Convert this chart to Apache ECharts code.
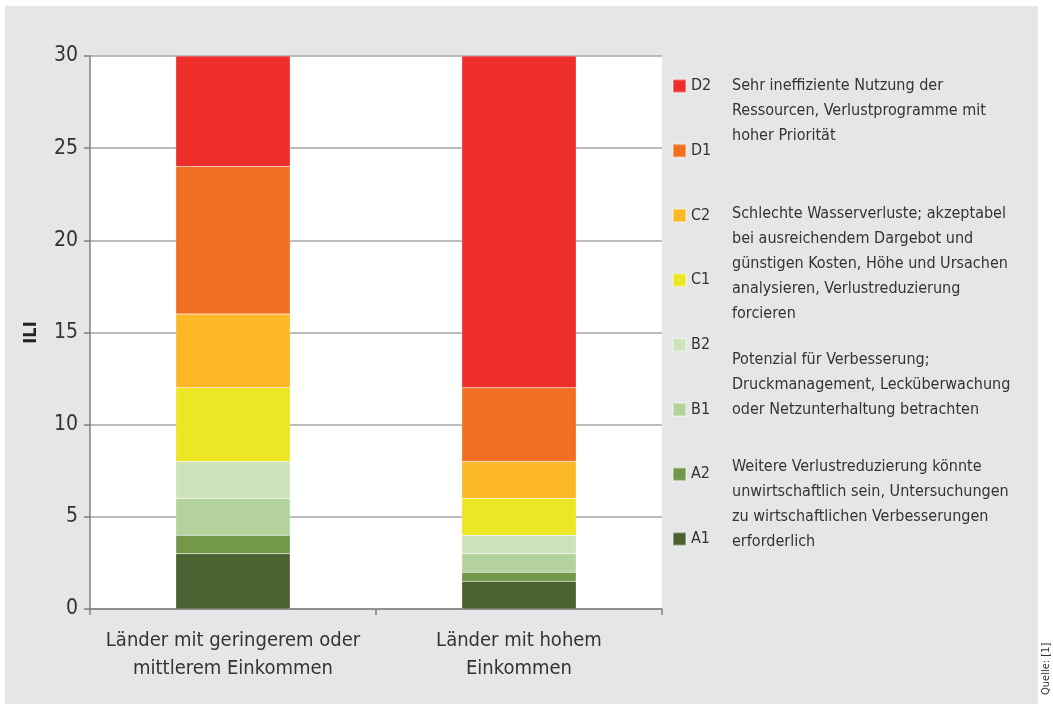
<!DOCTYPE html>
<html>
<head>
<meta charset="utf-8">
<script src="https://cdn.jsdelivr.net/npm/echarts@6/dist/echarts.min.js"></script>
<style>
  html, body { margin: 0; padding: 0; background: #fff; }
  #chart { width: 1053px; height: 704px; }
</style>
</head>
<body>
<div id="chart"></div>
<script>
const categories = ['Länder mit geringerem oder\nmittlerem Einkommen', 'Länder mit hohem\nEinkommen'];

// segment heights (stacked), bottom to top
const classes = ['A1', 'A2', 'B1', 'B2', 'C1', 'C2', 'D1', 'D2'];
const A1 = [3, 1.5];
const A2 = [1, 0.5];
const B1 = [2, 1];
const B2 = [2, 1];
const C1 = [4, 2];
const C2 = [4, 2];
const D1 = [8, 4];
const D2 = [6, 18];
const values = [A1, A2, B1, B2, C1, C2, D1, D2];

const COLORS = ['#4b6131', '#74984a', '#b4d39c', '#cde3bd', '#ede625', '#fdb827', '#f26f21', '#ee2e2b'];

const descriptions = [
    { y: 85, text: 'Sehr ineffiziente Nutzung der\nRessourcen, Verlustprogramme mit\nhoher Priorität' },
    { y: 213, text: 'Schlechte Wasserverluste; akzeptabel\nbei ausreichendem Dargebot und\ngünstigen Kosten, Höhe und Ursachen\nanalysieren, Verlustreduzierung\nforcieren' },
    { y: 359, text: 'Potenzial für Verbesserung;\nDruckmanagement, Lecküberwachung\noder Netzunterhaltung betrachten' },
    { y: 466, text: 'Weitere Verlustreduzierung könnte\nunwirtschaftlich sein, Untersuchungen\nzu wirtschaftlichen Verbesserungen\nerforderlich' },
];

const FONT = "'Liberation Sans Narrow', 'DejaVu Sans Condensed', sans-serif";
const TXT = '#333';

const chart = echarts.init(document.getElementById('chart'));

const graphics = [
    { type: 'rect', shape: { x: 5, y: 6, width: 1033, height: 698 }, style: { fill: '#e5e6e8' }, z: -10, silent: true },
    {
        type: 'text', x: 1046, y: 695, rotation: Math.PI / 2,
        style: { text: 'Quelle: [1]', font: "11px " + FONT, fill: TXT, textAlign: 'left', textVerticalAlign: 'middle' },
    },
];
descriptions.forEach(d => {
    graphics.push({
        type: 'text', x: 732, y: d.y - 12,
        style: { text: d.text, font: "16px " + FONT, fill: TXT, lineHeight: 25, textAlign: 'left', textVerticalAlign: 'top' },
    });
});

chart.setOption({
    animation: false,
    backgroundColor: '#fff',
    grid: {
        left: 90, right: 391, top: 56, bottom: 95,
        show: true, backgroundColor: '#fff', borderWidth: 0,
    },
    legend: {
        orient: 'vertical',
        left: 667, top: 72,
        itemWidth: 13, itemHeight: 13, itemGap: 46.7,
        icon: 'rect',
        data: classes.slice().reverse(),
        textStyle: { fontFamily: FONT, fontSize: 16, color: TXT, lineHeight: 18 },
    },
    xAxis: {
        type: 'category',
        data: categories,
        axisLine: { lineStyle: { color: '#808080', width: 1.5 } },
        axisTick: { show: true, length: 6, lineStyle: { color: '#808080', width: 1.5 } },
        axisLabel: { interval: 0, fontFamily: FONT, fontSize: 20, color: TXT, lineHeight: 28, margin: 18 },
    },
    yAxis: {
        type: 'value',
        min: 0, max: 30, interval: 5,
        name: 'ILI',
        nameLocation: 'middle',
        nameRotate: 90,
        nameGap: 50,
        nameTextStyle: { fontFamily: FONT, fontSize: 18, fontWeight: 'bold', color: '#222' },
        axisLine: { show: true, lineStyle: { color: '#808080', width: 1.5 } },
        axisTick: { show: true, length: 6, lineStyle: { color: '#808080', width: 1.5 } },
        axisLabel: { fontFamily: FONT, fontSize: 21, color: TXT, margin: 12 },
        splitLine: { lineStyle: { color: '#a6a6a6', width: 1.5 } },
    },
    series: classes.map((name, i) => ({
        name,
        type: 'bar',
        stack: 'ili',
        barWidth: '40%',
        itemStyle: { color: COLORS[i], borderColor: 'rgba(255,255,255,0.35)', borderWidth: 0.5 },
        data: values[i],
    })),
    graphic: graphics,
});
</script>
</body>
</html>
